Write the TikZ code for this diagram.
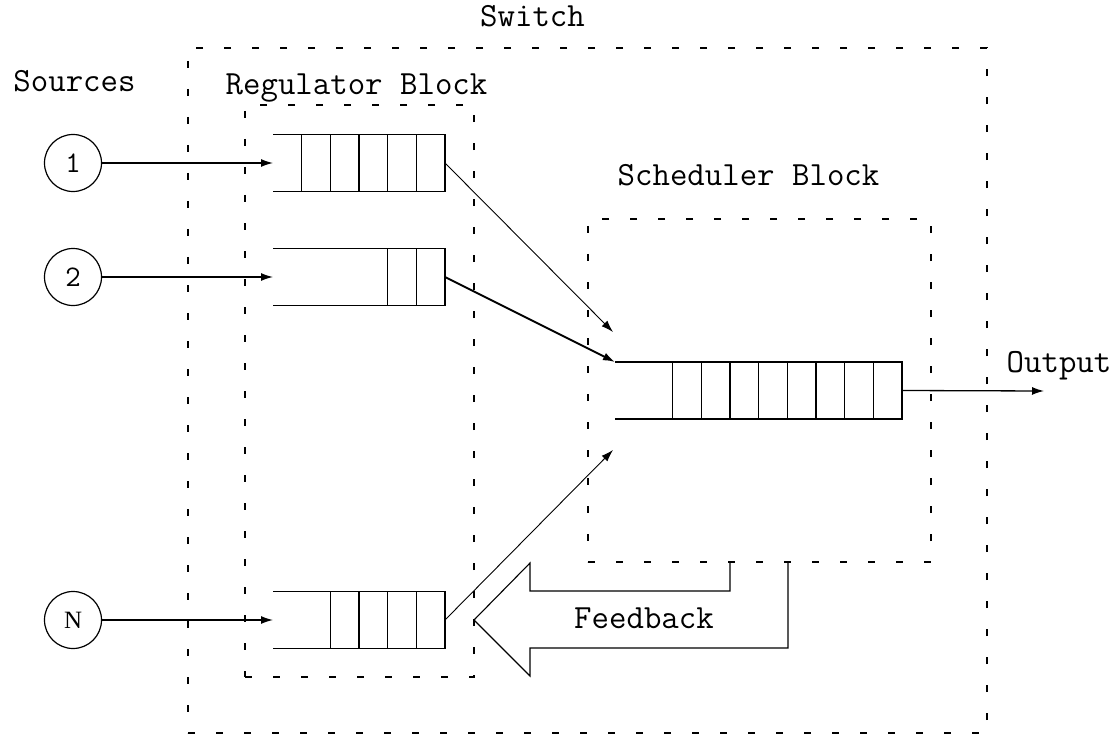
\documentclass[tikz,border=0pt]{standalone}
\usepackage{fontspec}
\usetikzlibrary{arrows.meta,calc}
\newfontfamily\serifN{Liberation Serif}
\newcommand\drawqueue[2]{%
  \draw[qline] (#1.north west) -- (#1.north east) -- (#1.south east) -- (#1.south west);
  \foreach \k in {1,...,#2}{\draw[qline] ([xshift=-\k*28.67bp]#1.north east) -- ([xshift=-\k*28.67bp]#1.south east);}
}
\begin{document}
\begin{tikzpicture}[x=1bp,y=-1bp,
  lab/.style={font=\ttfamily\fontsize{34}{40}\selectfont, inner sep=0pt, anchor=base},
  dbox/.style={draw, line width=1.3bp, dash pattern=on 7bp off 21bp, inner sep=0pt, outer sep=0pt, anchor=north west},
  qbox/.style={inner sep=0pt, outer sep=0pt, minimum height=57bp},
  qline/.style={line width=1.5bp},
  src/.style={circle, draw, line width=1.2bp, minimum size=57bp, inner sep=0pt, outer sep=0pt},
  arr/.style={line width=1.3bp, -{Latex[length=12bp,width=8bp]}},
  thinarr/.style={line width=0.9bp, -{Latex[length=12bp,width=8bp]}},
  thickarr/.style={line width=2bp, -{Latex[length=12bp,width=8bp]}},
  fb/.style={line width=1.1bp}
]
\useasboundingbox (0,0) rectangle (1117,735);
\fill[white] (0,0) rectangle (1117,735);

% boxes
\node[dbox, minimum width=799bp, minimum height=685bp] (switch) at (188,48) {};
\node[dbox, minimum width=229bp, minimum height=572bp] (reg) at (245,105) {};
\node[dbox, minimum width=343bp, minimum height=343bp] (sched) at (588,219) {};

% labels
\node[lab] (switchlab) at (532.5,27) {Switch};
\node[lab] (srclab) at (74.5,92) {Sources};
\node[lab] (reglab) at (356.5,95) {Regulator Block};
\node[lab] (schedlab) at (748.5,186) {Scheduler Block};
\node[lab] (outlab) at (1059,372) {Output};
\node[lab] (fblab) at (644,628) {Feedback};

% sources
\node[src, font=\ttfamily\fontsize{30}{34}\selectfont] (s1) at (73,163) {1};
\node[src, font=\ttfamily\fontsize{30}{34}\selectfont] (s2) at (73,277) {2};
\node[src, font=\serifN\fontsize{25}{30}\selectfont] (sN) at (73,620) {N};

% queues
\node[qbox, minimum width=172bp] (q1) at (359,163) {};
\node[qbox, minimum width=172bp] (q2) at (359,277) {};
\node[qbox, minimum width=172bp] (qN) at (359,620) {};
\node[qbox, minimum width=287bp] (sq) at (758.5,390.5) {};
\drawqueue{q1}{5}
\drawqueue{q2}{2}
\drawqueue{qN}{4}
\drawqueue{sq}{8}

% connectors
\coordinate (t1) at (613,332);
\coordinate (tN) at (613,450);
\coordinate (out) at (1044,391);
\draw[arr] (s1) -- (q1.west);
\draw[arr] (s2) -- (q2.west);
\draw[arr] (sN) -- (qN.west);
\draw[thinarr] (q1.east) -- (t1);
\draw[thickarr] (q2.east) -- (sq.north west);
\draw[thinarr] (qN.east) -- (tN);
\draw[arr] (sq.east) -- (out);

% feedback arrow
\draw[fb] (730,562) -- (730,591) -- (530,591) -- (530,563) -- (474,620) -- (530,676) -- (530,648) -- (788,648) -- (788,562);
\end{tikzpicture}
\end{document}
